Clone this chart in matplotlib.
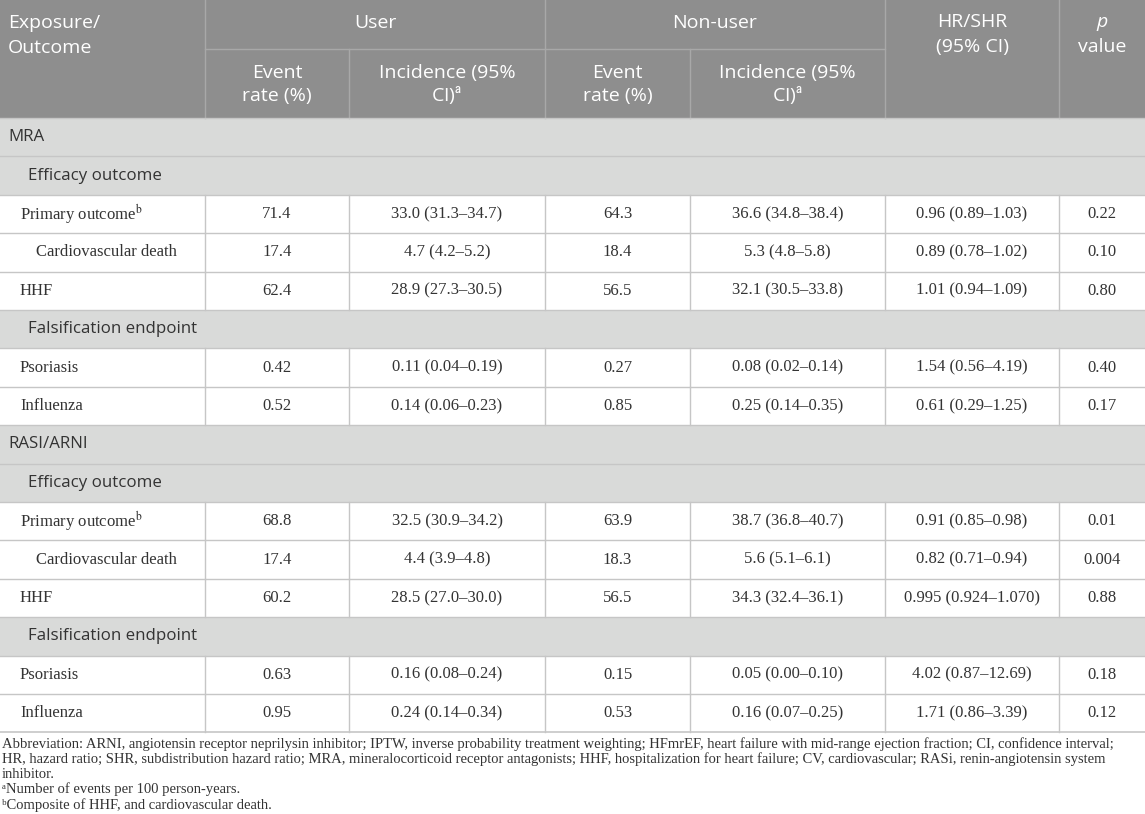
import matplotlib
matplotlib.use('Agg')
import matplotlib.pyplot as plt
from matplotlib.patches import Rectangle

# table content
row_labels = ['MRA', 'Efficacy outcome', 'Primary outcome$^{\\mathrm{b}}$', 'Cardiovascular death', 'HHF',
              'Falsification endpoint', 'Psoriasis', 'Influenza',
              'RASI/ARNI', 'Efficacy outcome', 'Primary outcome$^{\\mathrm{b}}$', 'Cardiovascular death', 'HHF',
              'Falsification endpoint', 'Psoriasis', 'Influenza']
row_kinds = ['section', 'sub', 'data', 'data2', 'data', 'sub', 'data', 'data',
             'section', 'sub', 'data', 'data2', 'data', 'sub', 'data', 'data']

user_rate = ['', '', '71.4', '17.4', '62.4', '', '0.42', '0.52',
             '', '', '68.8', '17.4', '60.2', '', '0.63', '0.95']
user_inc = ['', '', '33.0 (31.3–34.7)', '4.7 (4.2–5.2)', '28.9 (27.3–30.5)', '', '0.11 (0.04–0.19)', '0.14 (0.06–0.23)',
            '', '', '32.5 (30.9–34.2)', '4.4 (3.9–4.8)', '28.5 (27.0–30.0)', '', '0.16 (0.08–0.24)', '0.24 (0.14–0.34)']
non_rate = ['', '', '64.3', '18.4', '56.5', '', '0.27', '0.85',
            '', '', '63.9', '18.3', '56.5', '', '0.15', '0.53']
non_inc = ['', '', '36.6 (34.8–38.4)', '5.3 (4.8–5.8)', '32.1 (30.5–33.8)', '', '0.08 (0.02–0.14)', '0.25 (0.14–0.35)',
           '', '', '38.7 (36.8–40.7)', '5.6 (5.1–6.1)', '34.3 (32.4–36.1)', '', '0.05 (0.00–0.10)', '0.16 (0.07–0.25)']
hr = ['', '', '0.96 (0.89–1.03)', '0.89 (0.78–1.02)', '1.01 (0.94–1.09)', '', '1.54 (0.56–4.19)', '0.61 (0.29–1.25)',
      '', '', '0.91 (0.85–0.98)', '0.82 (0.71–0.94)', '0.995 (0.924–1.070)', '', '4.02 (0.87–12.69)', '1.71 (0.86–3.39)']
pval = ['', '', '0.22', '0.10', '0.80', '', '0.40', '0.17',
        '', '', '0.01', '0.004', '0.88', '', '0.18', '0.12']

footnotes = [
    'Abbreviation: ARNI, angiotensin receptor neprilysin inhibitor; IPTW, inverse probability treatment weighting; HFmrEF, heart failure with mid-range ejection fraction; CI, confidence interval;',
    'HR, hazard ratio; SHR, subdistribution hazard ratio; MRA, mineralocorticoid receptor antagonists; HHF, hospitalization for heart failure; CV, cardiovascular; RASi, renin-angiotensin system',
    'inhibitor.',
    'ᵃNumber of events per 100 person-years.',
    'ᵇComposite of HHF, and cardiovascular death.',
]

# layout (pixels)
W, H = 1145, 814
col_x = [0, 205, 349, 545, 690, 885, 1059, 1145]
head_h = 118
head_mid = 49
row_h = 38.4

head_bg = '#8e8e8e'
head_line = '#a8a8a8'
band_bg = '#d9dad9'
grid = '#c6c6c6'
txt = '#333333'
sans = 'Open Sans'
serif = 'Liberation Serif'
hfs = 14
sfs = 12.2
bfs = 12
ffs = 10.5

fig = plt.figure(figsize=(W / 100, H / 100), dpi=100)
ax = fig.add_axes([0, 0, 1, 1])
ax.set_xlim(0, W)
ax.set_ylim(H, 0)
ax.axis('off')

# header
ax.add_patch(Rectangle((0, 0), W, head_h, color=head_bg, lw=0))
ax.plot([col_x[1], col_x[5]], [head_mid, head_mid], color=head_line, lw=1)
for x in [col_x[1], col_x[3], col_x[5], col_x[6]]:
    ax.plot([x, x], [0, head_h], color=head_line, lw=1)
for x in [col_x[2], col_x[4]]:
    ax.plot([x, x], [head_mid, head_h], color=head_line, lw=1)

hkw = dict(color='white', fontsize=hfs, family=sans, math_fontfamily='stixsans', va='center')
ax.text(8, 23, 'Exposure/', ha='left', **hkw)
ax.text(8, 48, 'Outcome', ha='left', **hkw)
ax.text((col_x[1] + col_x[3]) / 2, 23, 'User', ha='center', **hkw)
ax.text((col_x[3] + col_x[5]) / 2, 23, 'Non-user', ha='center', **hkw)
for i in [1, 3]:
    xa = (col_x[i] + col_x[i + 1]) / 2
    xb = (col_x[i + 1] + col_x[i + 2]) / 2
    ax.text(xa, 73, 'Event', ha='center', **hkw)
    ax.text(xa, 96, 'rate (%)', ha='center', **hkw)
    ax.text(xb, 73, 'Incidence (95%', ha='center', **hkw)
    ax.text(xb, 96, 'CI)$^{\\mathrm{a}}$', ha='center', **hkw)
ax.text((col_x[5] + col_x[6]) / 2, 22, 'HR/SHR', ha='center', **hkw)
ax.text((col_x[5] + col_x[6]) / 2, 47, '(95% CI)', ha='center', **hkw)
ax.text((col_x[6] + col_x[7]) / 2, 22, 'p', ha='center', style='italic', **hkw)
ax.text((col_x[6] + col_x[7]) / 2, 47, 'value', ha='center', **hkw)

# body rows
for i, kind in enumerate(row_kinds):
    y0 = head_h + i * row_h
    yc = y0 + row_h / 2
    if kind in ('section', 'sub'):
        ax.add_patch(Rectangle((0, y0), W, row_h, color=band_bg, lw=0))
        xoff = 8 if kind == 'section' else 28
        ax.text(xoff, yc, row_labels[i], ha='left', va='center', color=txt, fontsize=sfs, family=sans)
    else:
        for x in col_x[1:-1]:
            ax.plot([x, x], [y0, y0 + row_h], color=grid, lw=1)
        xoff = 36 if kind == 'data2' else 20
        ax.text(xoff, yc, row_labels[i], ha='left', va='center', color=txt, fontsize=bfs,
                family=serif, math_fontfamily='stix')
        vals = [user_rate[i], user_inc[i], non_rate[i], non_inc[i], hr[i], pval[i]]
        for j, v in enumerate(vals):
            ax.text((col_x[j + 1] + col_x[j + 2]) / 2, yc, v, ha='center', va='center',
                    color=txt, fontsize=bfs, family=serif)
    ax.plot([0, W], [y0, y0], color=grid, lw=1)

bottom = head_h + len(row_kinds) * row_h
ax.plot([0, W], [bottom, bottom], color=grid, lw=1.2)

# footnotes
fy = [744, 759.2, 774.4, 789.6, 804.8]
for y, line in zip(fy, footnotes):
    ax.text(2, y, line, ha='left', va='center', color=txt, fontsize=ffs,
            family=[serif, 'DejaVu Serif'])

fig.savefig('out.png', dpi=100)
